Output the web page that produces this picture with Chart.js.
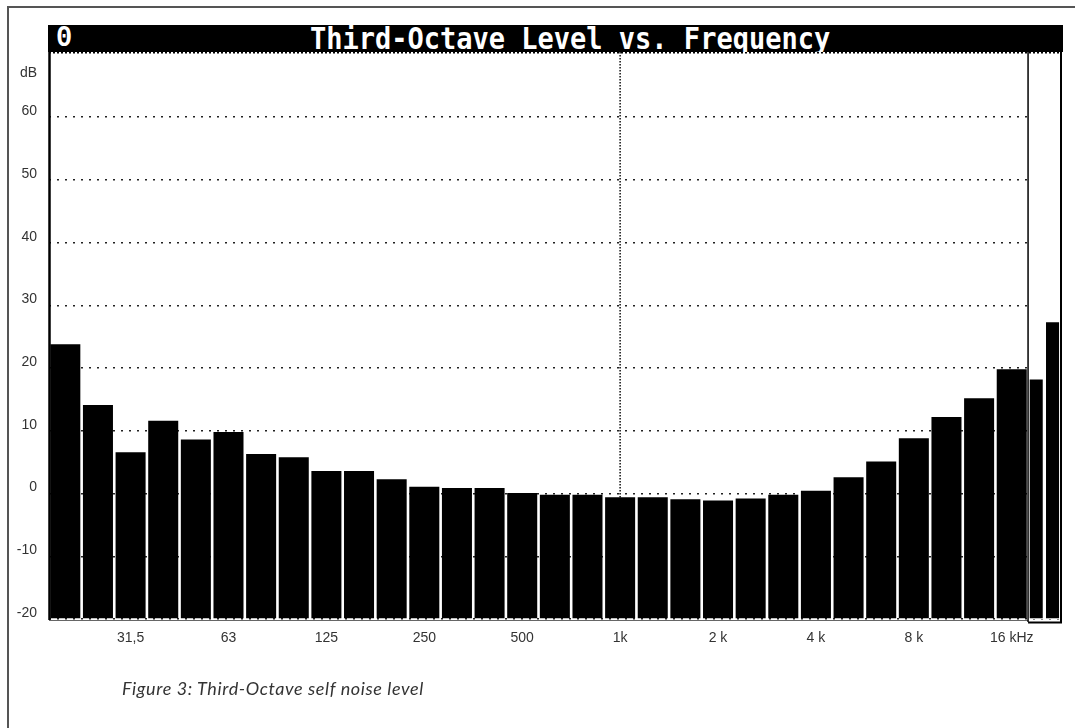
<!DOCTYPE html>
<html><head><meta charset="utf-8">
<script src="https://cdn.jsdelivr.net/npm/chart.js@4.4.1/dist/chart.umd.min.js"></script>
<style>
html,body{margin:0;padding:0;background:#fff;width:1075px;height:728px;overflow:hidden;}
#wrap{position:relative;width:1075px;height:728px;}
#c{position:absolute;left:0;top:0;}
#frameTop{position:absolute;left:7px;top:6px;width:1068px;height:0;border-top:2px solid #555;}
#frameLeft{position:absolute;left:7px;top:6px;width:0;height:722px;border-left:2px solid #555;}
#titlebar{position:absolute;left:48px;top:25px;width:1015px;height:27px;background:#000;color:#fff;
  font-family:"DejaVu Sans Mono",monospace;font-weight:bold;font-size:30px;line-height:27px;overflow:hidden;white-space:pre;}
#titlebar span{position:absolute;top:0;display:inline-block;transform:scaleX(0.9);transform-origin:left center;}
#titlebar span.zero{font-family:"Liberation Mono",monospace;}
#caption{position:absolute;left:122px;top:677px;font-family:Lato,"Open Sans",sans-serif;font-style:italic;font-size:18px;letter-spacing:0.6px;color:#333;white-space:pre;}
</style></head>
<body><div id="wrap">
<canvas id="c" width="1075" height="728"></canvas>
<div id="frameTop"></div><div id="frameLeft"></div>
<div id="titlebar"><span class="zero" style="left:8px">0</span><span style="left:262px">Third-Octave Level vs. Frequency</span></div>
<div id="caption">Figure 3: Third-Octave self noise level</div>
</div>
<script>
// ---- data ----
const bands = ['20','25','31,5','40','50','63','80','100','125','160','200','250','315','400','500','630','800','1k','1,25k','1,6k','2k','2,5k','3,15k','4k','5k','6,3k','8k','10k','12,5k','16k'];
const levels = [23.8,14.1,6.6,11.6,8.6,9.8,6.3,5.8,3.6,3.6,2.3,1.1,0.9,0.9,0.1,-0.2,-0.2,-0.6,-0.6,-0.9,-1.1,-0.8,-0.2,0.45,2.6,5.1,8.8,12.2,15.2,19.8];
const overallLabels = ['A','Lin'];
const overallLevels = [18.2, 27.3];
const tickBands = ['31,5','63','125','250','500','1k','2k','4k','8k','16k'];
const tickLabels = ['31,5','63','125','250','500','1k','2 k','4 k','8 k','16 kHz'];
const yTicks = [-20,-10,0,10,20,30,40,50,60];
const yUnit = 'dB';
const cursorBand = '1k';
const yMin = -20, yMax = 70.4;
const boxUnits = 1.04; // width of the overall-level box, in band units

const xMax = bands.length + boxUnits;
const mainData = bands.map((b,i)=>({x:i+0.5, y:levels[i]}));
const overallData = overallLevels.map((v,i)=>({x: bands.length + 0.25 + i*0.5, y:v}));
const tickFont = {family:'"Liberation Sans", Arial, sans-serif', size:14};

const framePlugin = {
  id:'frame',
  beforeDatasetsDraw(chart){
    const {ctx, chartArea:a, scales:{x}} = chart;
    const bx = x.getPixelForValue(bands.length);
    ctx.save();
    ctx.fillStyle = '#fff';
    ctx.fillRect(bx, a.top, a.right - bx + 2, a.bottom - a.top);
    // cursor at 1k
    const cx = x.getPixelForValue(bands.indexOf(cursorBand) + 0.5);
    ctx.strokeStyle = '#111'; ctx.lineWidth = 1.5; ctx.setLineDash([1.5,1.5]);
    ctx.beginPath(); ctx.moveTo(cx, a.top); ctx.lineTo(cx, a.bottom); ctx.stroke();
    // serrated top edge
    ctx.setLineDash([2,2]); ctx.strokeStyle='#000'; ctx.lineWidth=1.5;
    ctx.beginPath(); ctx.moveTo(a.left, a.top+0.75); ctx.lineTo(a.right, a.top+0.75); ctx.stroke();
    ctx.restore();
  },
  afterDatasetsDraw(chart){
    const {ctx, chartArea:a, scales:{x}} = chart;
    const bx = x.getPixelForValue(bands.length);
    ctx.save();
    ctx.strokeStyle = '#000';
    // y axis line
    ctx.lineWidth = 2.5;
    ctx.beginPath(); ctx.moveTo(a.left+0.5, a.top); ctx.lineTo(a.left+0.5, a.bottom+1); ctx.stroke();
    // base line
    ctx.strokeStyle = '#666'; ctx.lineWidth = 1.2;
    ctx.beginPath(); ctx.moveTo(a.left, a.bottom+1.5); ctx.lineTo(bx, a.bottom+1.5); ctx.stroke();
    // box lines
    ctx.strokeStyle = '#000'; ctx.lineWidth = 1.5;
    ctx.beginPath(); ctx.moveTo(bx, a.top); ctx.lineTo(bx, a.bottom+3); ctx.stroke();
    ctx.lineWidth = 2;
    ctx.beginPath(); ctx.moveTo(a.right-1, a.top-2); ctx.lineTo(a.right-1, a.bottom+3.5); ctx.lineTo(bx, a.bottom+3.5); ctx.stroke();
    // unit label
    ctx.fillStyle = '#333';
    ctx.font = '14px "Liberation Sans", Arial, sans-serif';
    ctx.textAlign = 'right'; ctx.textBaseline = 'middle';
    ctx.fillText(yUnit, a.left - 12, 73);
    ctx.restore();
  }
};

new Chart(document.getElementById('c'), {
  type:'bar',
  data:{ datasets:[
    {label:'Third-octave level', data:mainData, xAxisID:'x', yAxisID:'y', backgroundColor:'#000', borderWidth:0,
     base:yMin, barPercentage:0.92, categoryPercentage:1, grouped:false},
    {label:'Overall level', data:overallData, xAxisID:'x2', yAxisID:'y', backgroundColor:'#000', borderWidth:0,
     base:yMin, barPercentage:0.8, categoryPercentage:1, grouped:false}
  ]},
  options:{
    responsive:false, animation:false, devicePixelRatio:1,
    layout:{padding:{left:0, top:52, right:13, bottom:79}},
    plugins:{legend:{display:false}, tooltip:{enabled:false}},
    scales:{
      x:{type:'linear', min:0, max:xMax, offset:false,
        grid:{display:false, drawTicks:false}, border:{display:false},
        afterBuildTicks:(s)=>{ s.ticks = tickBands.map(b=>({value: bands.indexOf(b)+0.5})); },
        afterFit:(s)=>{ s.height = 30; },
        ticks:{autoSkip:false, maxRotation:0, padding:11, color:'#333', font:tickFont,
          callback:(v,i)=>tickLabels[i]}
      },
      x2:{type:'linear', min:0, max:xMax, offset:false, display:false},
      y:{type:'linear', min:yMin, max:yMax,
        grid:{color:'#222', lineWidth:1.5, drawTicks:false},
        border:{display:false, dash:[2,6]},
        afterBuildTicks:(s)=>{ s.ticks = yTicks.map(v=>({value:v})); },
        afterFit:(s)=>{ s.width = 49; },
        ticks:{padding:12, color:'#333', labelOffset:-6, font:tickFont}
      }
    }
  },
  plugins:[framePlugin]
});
</script>
</body></html>
